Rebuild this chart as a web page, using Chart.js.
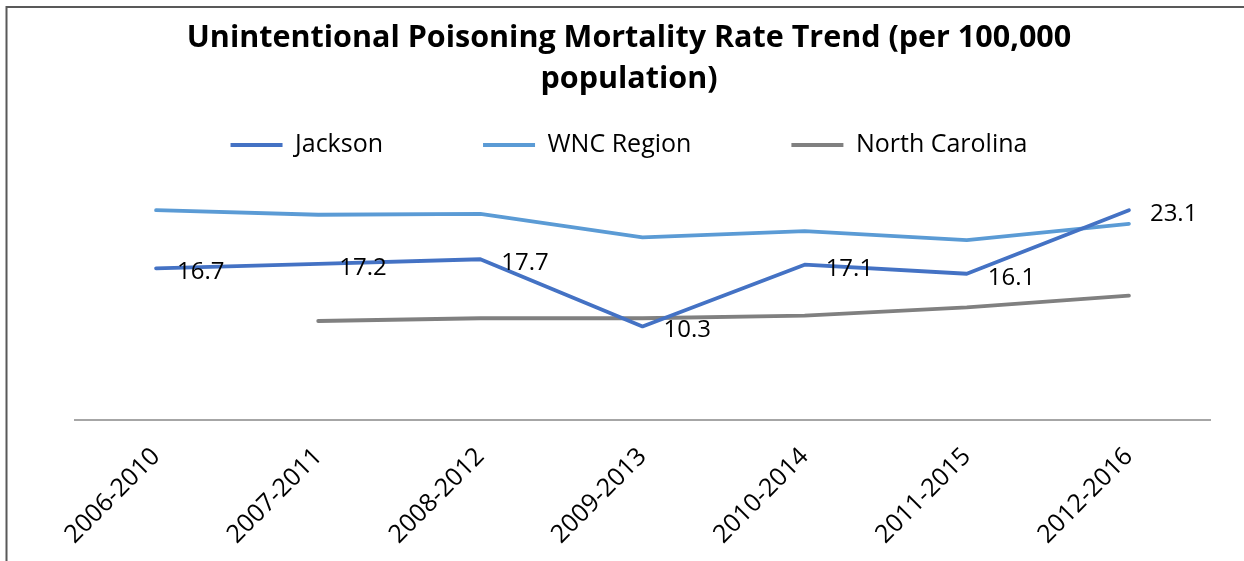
<!DOCTYPE html>
<html>
<head>
<meta charset="utf-8">
<script src="https://cdn.jsdelivr.net/npm/chart.js@4.4.1/dist/chart.umd.min.js"></script>
<style>
  html, body { margin: 0; padding: 0; background: #ffffff; }
  #wrap { width: 1244px; height: 561px; position: relative; }
</style>
</head>
<body>
<div id="wrap"><canvas id="c"></canvas></div>
<script>
const categories = ['2006-2010', '2007-2011', '2008-2012', '2009-2013', '2010-2014', '2011-2015', '2012-2016'];
const jackson = [16.7, 17.2, 17.7, 10.3, 17.1, 16.1, 23.1];
const wncRegion = [23.1, 22.6, 22.7, 20.1, 20.8, 19.8, 21.6];
const northCarolina = [null, 10.9, 11.2, 11.2, 11.5, 12.4, 13.7];
const seriesNames = ['Jackson', 'WNC Region', 'North Carolina'];
const seriesColors = ['#4472C4', '#5B9BD5', '#808080'];
const titleLines = ['Unintentional Poisoning Mortality Rate Trend (per 100,000', 'population)'];

const FONT = "'Open Sans', 'Noto Sans', sans-serif";
Chart.defaults.font.family = FONT;
Chart.defaults.color = '#000000';

const frame = {
  id: 'frame',
  beforeDraw(chart) {
    const ctx = chart.ctx;
    ctx.save();
    ctx.fillStyle = '#ffffff';
    ctx.fillRect(0, 0, chart.width, chart.height);
    ctx.strokeStyle = '#595959';
    ctx.lineWidth = 2;
    ctx.beginPath();
    ctx.moveTo(6.5, chart.height);
    ctx.lineTo(6.5, 7);
    ctx.lineTo(chart.width, 7);
    ctx.stroke();
    ctx.restore();
  }
};

const valueLabels = {
  id: 'valueLabels',
  afterDatasetsDraw(chart) {
    const ctx = chart.ctx;
    const meta = chart.getDatasetMeta(0);
    const data = chart.data.datasets[0].data;
    ctx.save();
    ctx.font = "24px " + FONT;
    ctx.fillStyle = '#000000';
    ctx.textAlign = 'left';
    ctx.textBaseline = 'middle';
    meta.data.forEach((el, i) => {
      if (data[i] == null) return;
      ctx.fillText(data[i].toFixed(1), el.x + 21, el.y + 4);
    });
    ctx.restore();
  }
};

const makeDataset = (i, values) => ({
  label: seriesNames[i],
  data: values,
  borderColor: seriesColors[i],
  backgroundColor: seriesColors[i],
  borderWidth: 3.8,
  pointRadius: 0,
  pointHoverRadius: 0,
  tension: 0,
  borderCapStyle: 'round',
  borderJoinStyle: 'round',
  fill: false
});

new Chart(document.getElementById('c'), {
  type: 'line',
  data: {
    labels: categories,
    datasets: [makeDataset(0, jackson), makeDataset(1, wncRegion), makeDataset(2, northCarolina)]
  },
  options: {
    responsive: true,
    maintainAspectRatio: false,
    animation: false,
    layout: { padding: { left: 48, right: 34, top: 0, bottom: 0 } },
    plugins: {
      title: {
        display: true,
        text: titleLines,
        color: '#000000',
        font: { size: 30.5, weight: 'bold', lineHeight: 41 / 30.5 },
        padding: { top: 18, bottom: -67.5 }
      },
      legend: {
        display: true,
        position: 'top',
        labels: {
          usePointStyle: true,
          pointStyle: 'line',
          pointStyleWidth: 52,
          padding: 100,
          color: '#000000',
          font: { size: 25 }
        }
      },
      tooltip: { enabled: false }
    },
    scales: {
      x: {
        offset: true,
        grid: { display: false, drawTicks: false, offset: true },
        border: { display: true, color: '#a6a6a6', width: 2 },
        ticks: { maxRotation: 45, minRotation: 45, padding: 22, color: '#000000', font: { size: 25 } },
        afterFit(s) { s.height = 141; }
      },
      y: {
        min: 0,
        max: 27.8,
        display: true,
        grid: { display: false, drawTicks: false },
        border: { display: false },
        ticks: { display: false },
        afterFit(s) { s.width = 27; }
      }
    }
  },
  plugins: [frame, valueLabels]
});
</script>
</body>
</html>
